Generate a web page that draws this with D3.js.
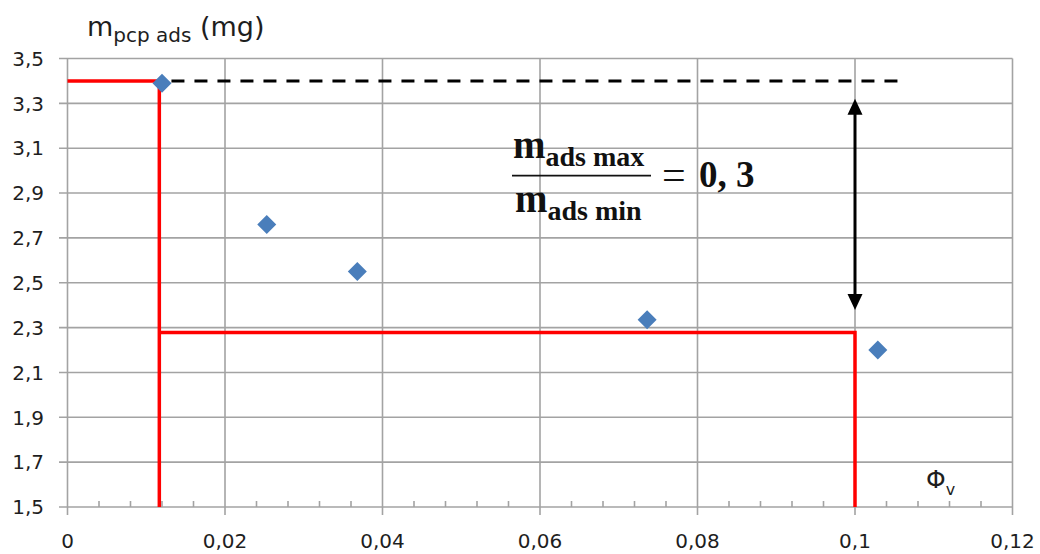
<!DOCTYPE html>
<html><head><meta charset="utf-8">
<script src="https://cdn.jsdelivr.net/npm/d3@7"></script>
<style>body{margin:0;background:#fff}svg{display:block}</style>
</head><body><svg id="c" width="1040" height="554"></svg>
<script>
// data
const phiV = [0.0120, 0.0253, 0.0368, 0.0736, 0.1029];
const mAds = [3.39, 2.76, 2.55, 2.335, 2.20];
const xTicks = [0, 0.02, 0.04, 0.06, 0.08, 0.1, 0.12];
const xTickLabels = ["0", "0,02", "0,04", "0,06", "0,08", "0,1", "0,12"];
const yTicks = [1.5, 1.7, 1.9, 2.1, 2.3, 2.5, 2.7, 2.9, 3.1, 3.3, 3.5];
const yTickLabels = ["1,5", "1,7", "1,9", "2,1", "2,3", "2,5", "2,7", "2,9", "3,1", "3,3", "3,5"];
const redPathX = [0, 0.01166, 0.01166];
const redPathY = [3.4, 3.4, 1.5];
const redPath2X = [0.01166, 0.1, 0.1];
const redPath2Y = [2.278, 2.278, 1.5];
const dashX = [0.0132, 0.1057];
const dashY = [3.4, 3.4];
const arrowX = [0.1, 0.1];
const arrowY = [3.32, 2.378];

const svg = d3.select("#c");
const x = d3.scaleLinear().domain([0, 0.12]).range([67.5, 1012.5]);
const y = d3.scaleLinear().domain([1.5, 3.5]).range([507, 58.5]);
const grid = "#a3a3a3";

// gridlines
svg.append("g").selectAll("line").data(yTicks).join("line")
  .attr("x1", 59).attr("x2", x(0.12)).attr("y1", d => y(d)).attr("y2", d => y(d))
  .attr("stroke", grid).attr("stroke-width", 1.6);
svg.append("g").selectAll("line").data(xTicks).join("line")
  .attr("x1", d => x(d)).attr("x2", d => x(d)).attr("y1", y(3.5)).attr("y2", y(1.5) + 8)
  .attr("stroke", grid).attr("stroke-width", 1.6);
// minor ticks
const minor = d3.range(0, 0.1201, 0.004).filter(v => Math.abs(v / 0.02 - Math.round(v / 0.02)) > 1e-6);
svg.append("g").selectAll("line").data(minor).join("line")
  .attr("x1", d => x(d)).attr("x2", d => x(d)).attr("y1", y(1.5)).attr("y2", y(1.5) - 6)
  .attr("stroke", grid).attr("stroke-width", 1.6);

// tick labels
svg.append("g").selectAll("text").data(yTicks).join("text")
  .attr("x", 44).attr("y", d => y(d)).attr("dy", "0.36em").attr("text-anchor", "end")
  .attr("font-family", "DejaVu Sans").attr("font-size", 20).attr("fill", "#1e1e1e")
  .text((d, i) => yTickLabels[i]);
svg.append("g").selectAll("text").data(xTicks).join("text")
  .attr("x", d => x(d)).attr("y", 548).attr("text-anchor", "middle")
  .attr("font-family", "DejaVu Sans").attr("font-size", 20).attr("fill", "#1e1e1e")
  .text((d, i) => xTickLabels[i]);

// red lines
const line = d3.line().x(d => x(d[0])).y(d => y(d[1]));
svg.append("path").attr("d", line(redPathX.map((v, i) => [v, redPathY[i]])))
  .attr("fill", "none").attr("stroke", "#ff0000").attr("stroke-width", 3.5);
svg.append("path").attr("d", line(redPath2X.map((v, i) => [v, redPath2Y[i]])))
  .attr("fill", "none").attr("stroke", "#ff0000").attr("stroke-width", 3.5);

// dashed line
svg.append("path").attr("d", line(dashX.map((v, i) => [v, dashY[i]])))
  .attr("fill", "none").attr("stroke", "#000").attr("stroke-width", 3).attr("stroke-dasharray", "13,10");

// markers
svg.append("g").selectAll("path").data(phiV).join("path")
  .attr("transform", (d, i) => `translate(${x(d)},${y(mAds[i])})`)
  .attr("d", "M0,-9.5L9.5,0L0,9.5L-9.5,0Z").attr("fill", "#4a7ebb");

// double arrow
const ax = x(arrowX[0]), ay1 = y(arrowY[0]), ay2 = y(arrowY[1]);
svg.append("line").attr("x1", ax).attr("x2", ax).attr("y1", ay1 + 10).attr("y2", ay2 - 10)
  .attr("stroke", "#000").attr("stroke-width", 3);
svg.append("path").attr("d", `M${ax},${ay1}L${ax + 7.5},${ay1 + 16}L${ax - 7.5},${ay1 + 16}Z`).attr("fill", "#000");
svg.append("path").attr("d", `M${ax},${ay2}L${ax + 7.5},${ay2 - 16}L${ax - 7.5},${ay2 - 16}Z`).attr("fill", "#000");

// formula
const ff = "Liberation Serif";
const num = svg.append("text").attr("x", 513).attr("y", 158).attr("font-family", ff).attr("font-weight", "bold").attr("fill", "#111");
num.append("tspan").attr("font-size", 39).text("m");
num.append("tspan").attr("font-size", 28).attr("dy", 8).text("ads max");
const den = svg.append("text").attr("x", 515).attr("y", 212).attr("font-family", ff).attr("font-weight", "bold").attr("fill", "#111");
den.append("tspan").attr("font-size", 39).text("m");
den.append("tspan").attr("font-size", 28).attr("dy", 8).text("ads min");
svg.append("line").attr("x1", 512).attr("x2", 651).attr("y1", 175.7).attr("y2", 175.7).attr("stroke", "#111").attr("stroke-width", 1.8);
svg.append("text").attr("x", 662).attr("y", 189).attr("font-family", ff).attr("font-size", 42).attr("fill", "#111").text("=");
svg.append("text").attr("x", 699).attr("y", 187).attr("font-family", ff).attr("font-weight", "bold").attr("font-size", 37).attr("fill", "#111").text("0, 3");

// axis titles
const yt = svg.append("text").attr("x", 87).attr("y", 36).attr("font-family", "DejaVu Sans").attr("fill", "#1e1e1e");
yt.append("tspan").attr("font-size", 27).text("m");
yt.append("tspan").attr("font-size", 20).attr("dy", 6).text("pcp ads");
yt.append("tspan").attr("font-size", 27).attr("dy", -6).text(" (mg)");
const xt = svg.append("text").attr("x", 926).attr("y", 488).attr("font-family", "DejaVu Sans").attr("fill", "#1e1e1e");
xt.append("tspan").attr("font-size", 25).text("Φ");
xt.append("tspan").attr("font-size", 16).attr("dy", 7).text("v");
</script></body></html>
